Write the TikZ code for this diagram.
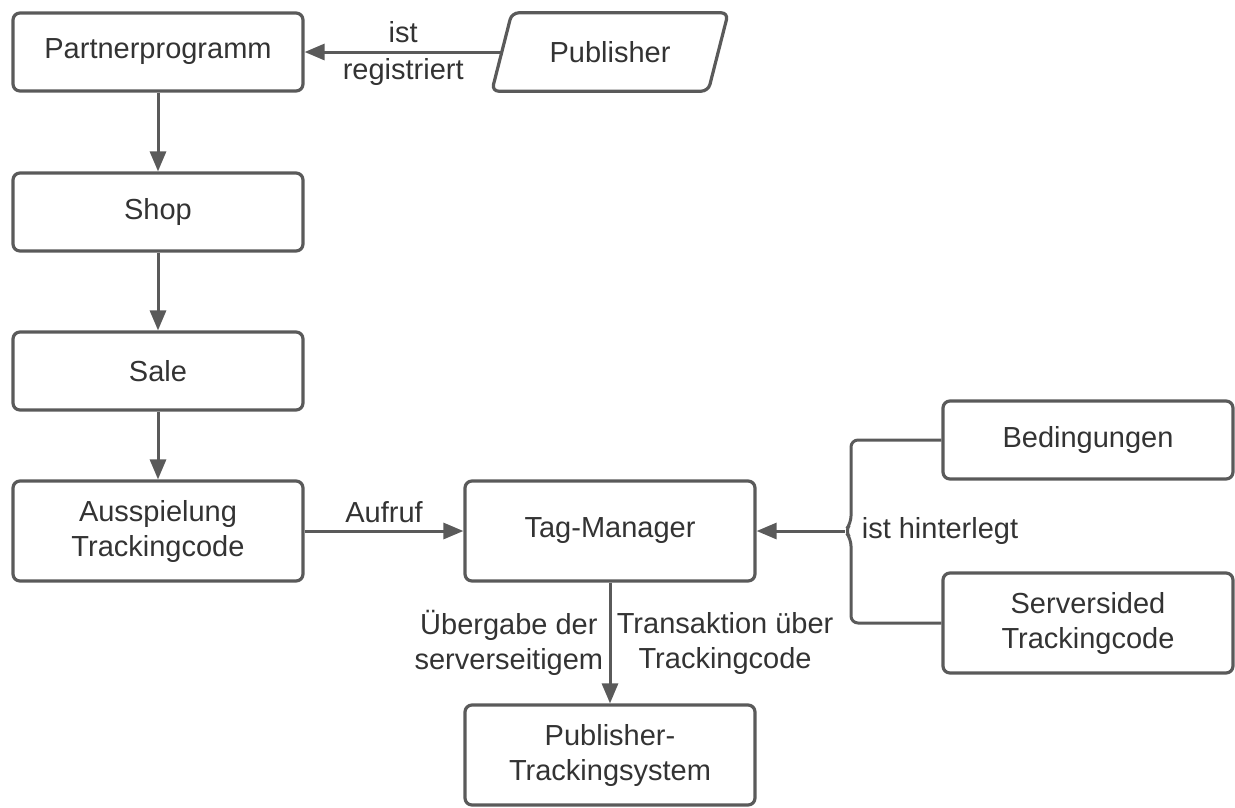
\documentclass[tikz,border=0pt]{standalone}
\usepackage{fontspec}
\setmainfont{Liberation Sans}
\usetikzlibrary{arrows.meta}
\definecolor{linegray}{HTML}{5A5A5A}
\definecolor{textgray}{HTML}{333333}

\begin{document}
\begin{tikzpicture}[x=1pt, y=-1pt,
                    box/.style={rectangle, draw=linegray, line width=3.2pt, rounded corners=7pt,
                                minimum width=290pt, minimum height=78pt, align=center, text=textgray},
                    tallbox/.style={box, minimum height=100pt},
                    flow/.style={draw=linegray, line width=3pt, -{Triangle[length=20pt, width=16pt]}},
                    connector/.style={draw=linegray, line width=3pt},
                    lbl/.style={text=textgray, align=center},
                    font=\fontsize{29pt}{35pt}\selectfont]
  \useasboundingbox (0,0) rectangle (1235,807);

  % Boxes.
  \node at (158, 52) [box, name=Partnerprogramm] {Partnerprogramm};
  \node at (158, 212) [box, name=Shop] {Shop};
  \node at (158, 371) [box, name=Sale] {Sale};
  \node at (158, 531) [tallbox, name=Ausspielung] {Ausspielung\\Trackingcode};
  \node at (610, 531) [tallbox, name=TagManager] {Tag-Manager};
  \node at (610, 755) [tallbox, name=TrackingSystem] {Publisher-\\Trackingsystem};
  \node at (1088, 440) [box, name=Bedingungen] {Bedingungen};
  \node at (1088, 623) [tallbox, name=Serversided] {Serversided\\Trackingcode};

  % Publisher as parallelogram.
  \node at (610, 52) [lbl, minimum width=216pt, minimum height=78pt, name=Publisher] {Publisher};
  \draw [connector, line width=3.2pt, rounded corners=7pt]
        ([xshift=10pt]Publisher.north west) -- ([xshift=10pt]Publisher.north east)
        -- ([xshift=-10pt]Publisher.south east) -- ([xshift=-10pt]Publisher.south west) -- cycle;

  % Point of the brace in front of the Tag-Manager.
  \coordinate (hub) at (845, 531);

  % Main flow.
  \draw [flow] (Publisher.west)
               to node [lbl, above=4pt] {ist}
                  node [lbl, below=2pt] {registriert}
               (Partnerprogramm);
  \draw [flow] (Partnerprogramm) to (Shop);
  \draw [flow] (Shop) to (Sale);
  \draw [flow] (Sale) to (Ausspielung);
  \draw [flow] (Ausspielung)
               to node [lbl, above=3pt] {Aufruf}
               (TagManager);
  \draw [flow] (TagManager)
               to node [lbl, left=2pt, pos=0.5] {Übergabe der\\serverseitigem}
                  node [lbl, right=2pt, pos=0.5] {Transaktion über\\Trackingcode}
               (TrackingSystem);

  % Brace joining the stored items.
  \draw [connector, rounded corners=7pt] (Bedingungen.west) -| (851, 523) -- (hub)
        -- (851, 539) |- (Serversided.west);
  \draw [flow] (hub)
               to node [lbl, pos=0, anchor=west, xshift=12pt] {ist hinterlegt}
               (TagManager);
\end{tikzpicture}
\end{document}
